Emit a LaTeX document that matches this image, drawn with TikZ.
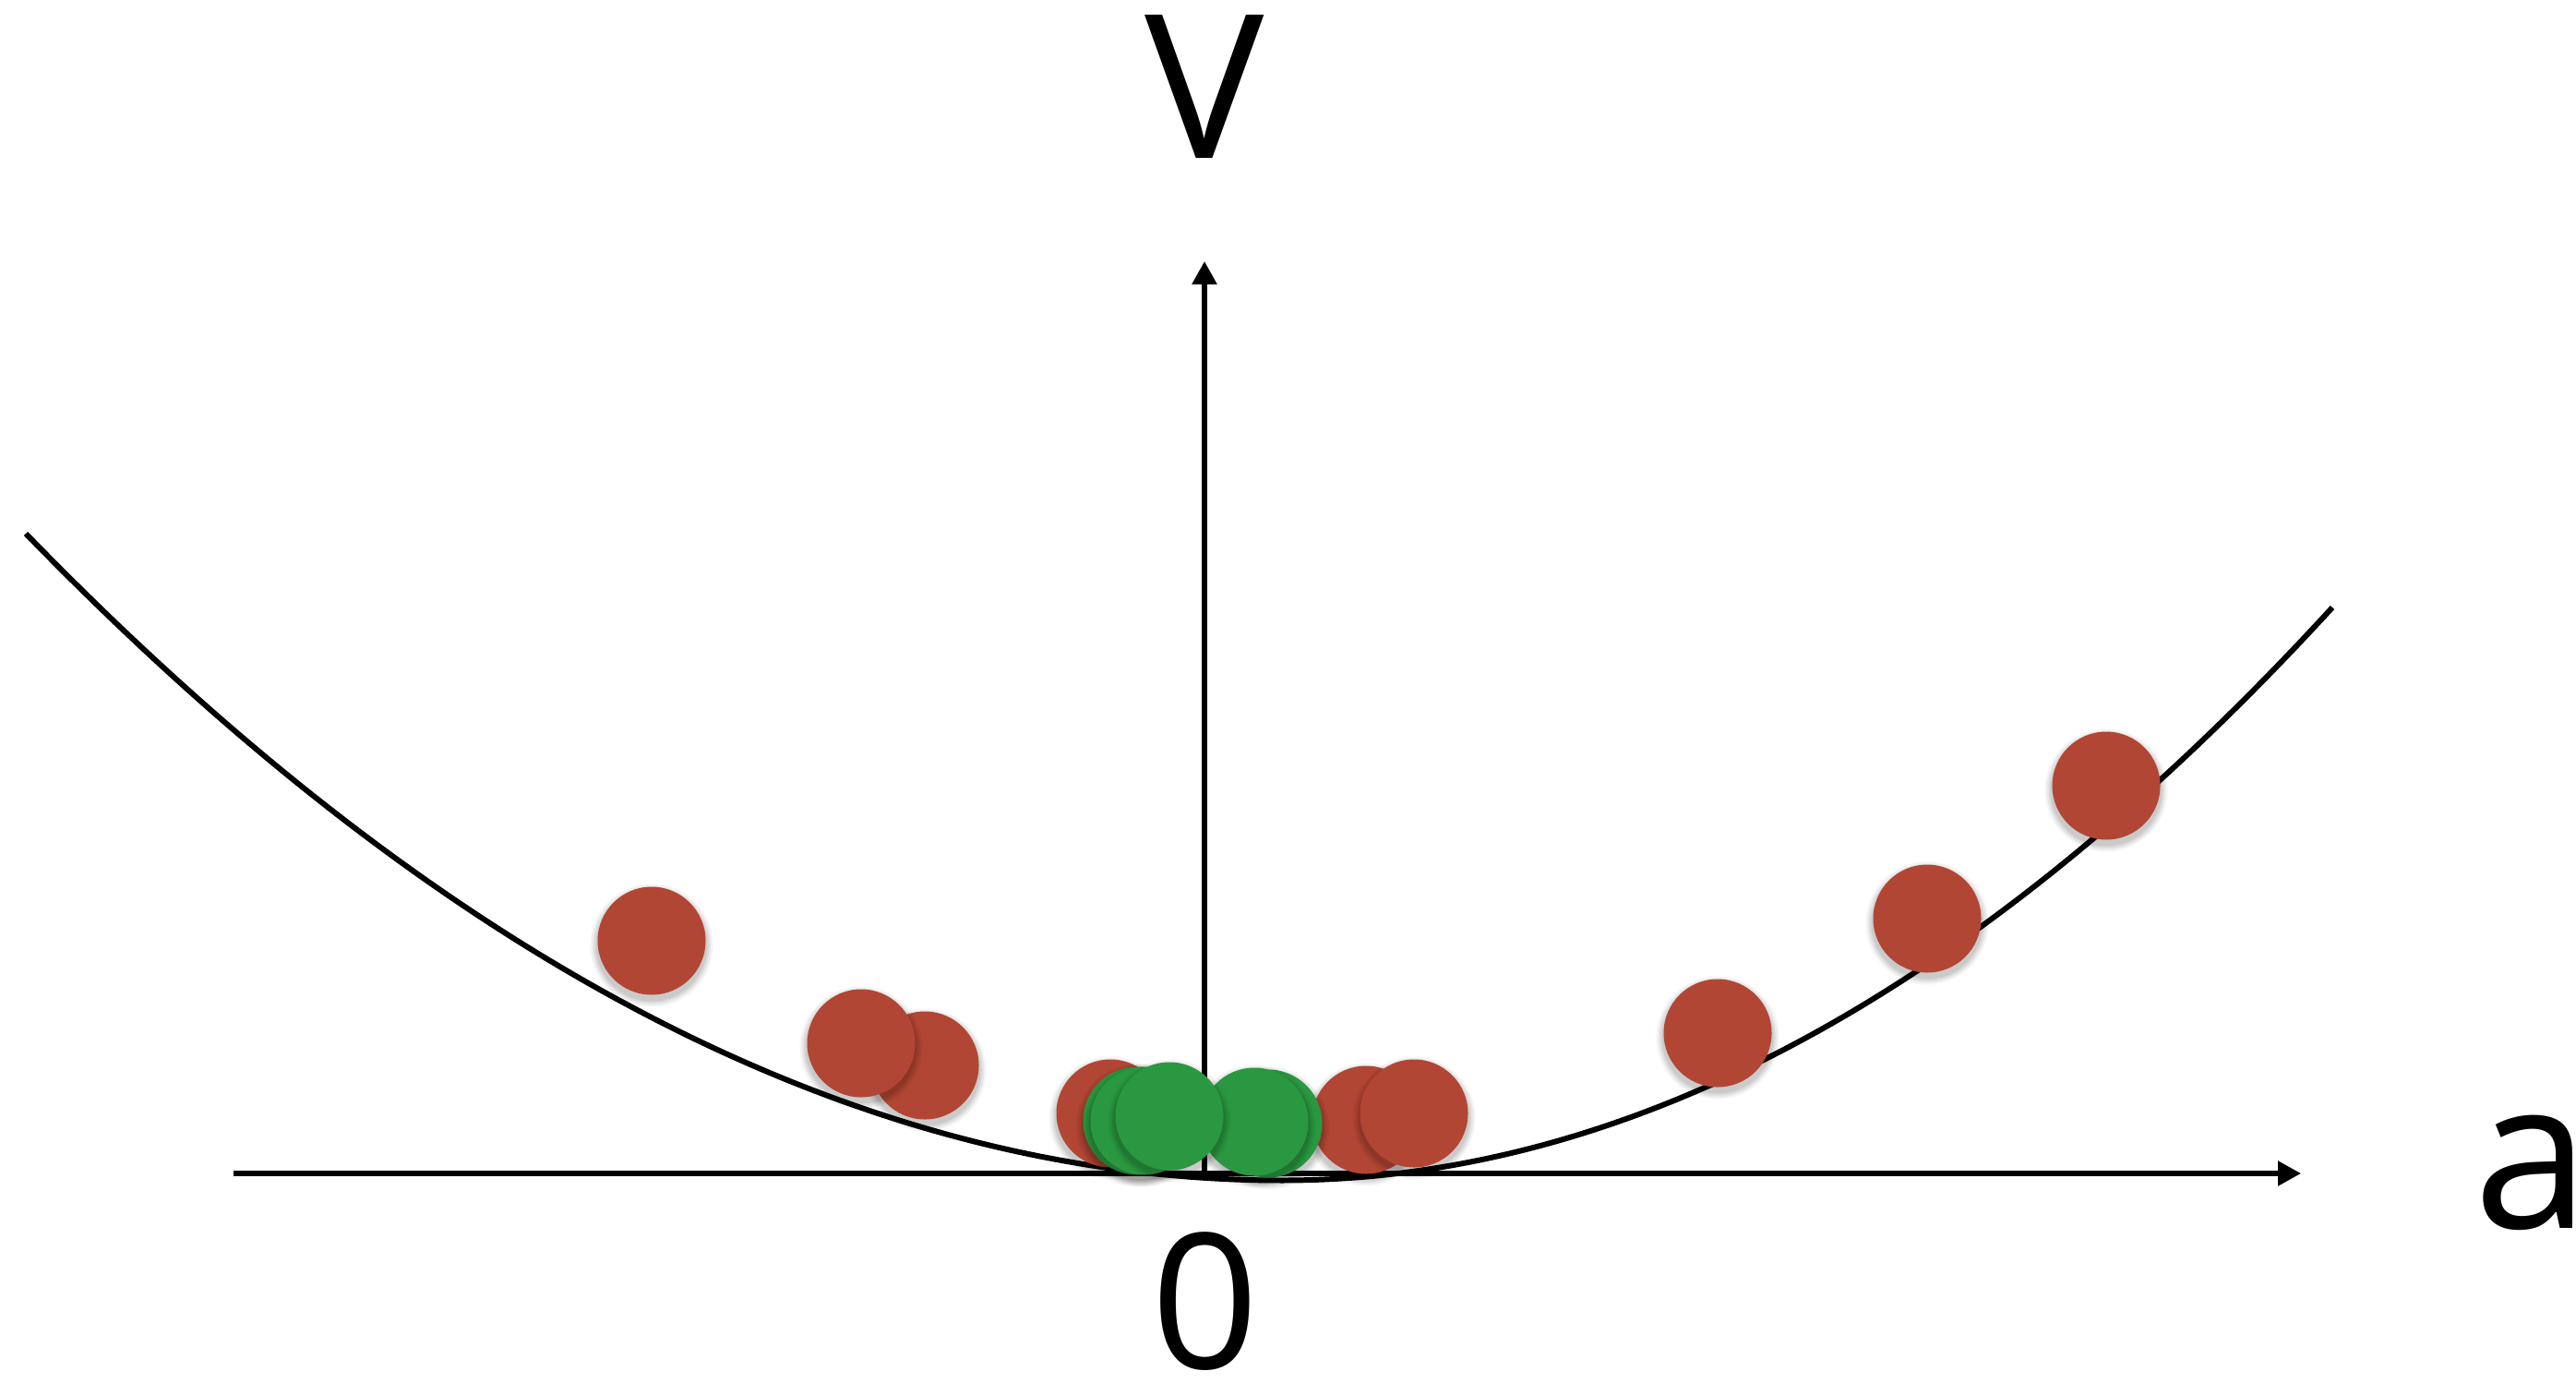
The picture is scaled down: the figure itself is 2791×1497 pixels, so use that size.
\documentclass[tikz,border=0pt]{standalone}
\usepackage{fontspec}
\setmainfont{Open Sans}
\usetikzlibrary{arrows.meta}
\definecolor{feltred}{RGB}{178,70,52}
\definecolor{feltgreen}{RGB}{42,152,64}
\newcommand\feltball[3]{%
  \foreach \k/\o in {8/0.04,6/0.05,4/0.06,2/0.07}{\fill[black,opacity=\o] (#1,#2+5) circle[radius=58.5+\k];}%
  \fill[#3] (#1,#2) circle[radius=58.5];}
\tikzset{
  axisline/.style={line width=1.55pt, -{Triangle[length=0.25cm,width=0.26cm]}},
  potential/.style={line width=1.7pt},
  labeltext/.style={inner sep=0pt, text=black, text depth=0pt}
}
\begin{document}
\begin{tikzpicture}[x=0.01cm, y=-0.01cm]
\useasboundingbox (0,0) rectangle (2791,1497);
\fill[white] (0,0) rectangle (2791,1497);
\coordinate (O) at (1305,1271);
\coordinate (xstart) at (253,1271);
\coordinate (xtip) at (2493,1271);
\coordinate (ytip) at (1305,283);
\coordinate (cleft) at (28,578);
\coordinate (cmin) at (1389,1278.5);
\coordinate (cright) at (2527,658);
% axes
\draw[axisline] (xstart) -- (xtip);
\draw[axisline] (O) -- (ytip);
% potential curve (two parabolic halves)
\draw[potential] (cleft) .. controls (481.7,1045) and (935.3,1278.5) .. (cmin)
  .. controls (1768.3,1278.5) and (2147.7,1071.7) .. (cright);
% balls
\feltball{706}{1019}{feltred}
\feltball{1002}{1154}{feltred}
\feltball{933}{1130}{feltred}
\feltball{1203}{1206}{feltred}
\feltball{1480}{1213}{feltred}
\feltball{1532}{1206}{feltred}
\feltball{1374}{1217}{feltgreen}
\feltball{1359}{1215}{feltgreen}
\feltball{1232}{1214}{feltgreen}
\feltball{1240}{1214}{feltgreen}
\feltball{1267}{1209}{feltgreen}
\feltball{1861}{1119}{feltred}
\feltball{2088}{995}{feltred}
\feltball{2282}{851}{feltred}
% labels
\node[labeltext, font=\fontsize{61.8}{74}\selectfont, anchor=base] (Vlabel) at (1305,172) {V};
\node[labeltext, font=\fontsize{58}{70}\selectfont, anchor=base] (zerolabel) at (1306,1482) {0};
\node[labeltext, font=\fontsize{64}{78}\selectfont, anchor=base west] (alabel) at (2680,1330) {a\kern-0.08em};
\end{tikzpicture}
\end{document}
